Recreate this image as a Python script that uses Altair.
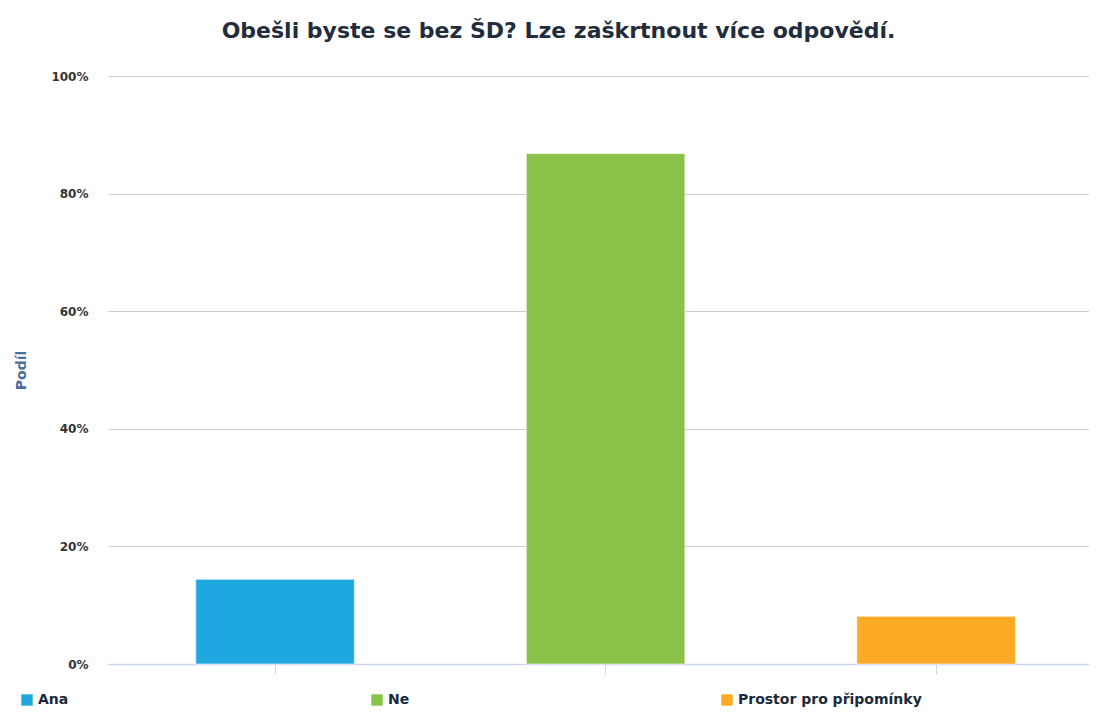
import altair as alt
import pandas as pd

categories = ["Ana", "Ne", "Prostor pro připomínky"]
shares = [0.144, 0.868, 0.081]
colors = ["#1FA8E0", "#8BC34A", "#FBAA26"]

df = pd.DataFrame({"kategorie": categories, "podil": shares})

FONT = "DejaVu Sans"

chart = alt.Chart(df).mark_bar(stroke="white", strokeWidth=1, strokeOpacity=0.6).encode(
    x=alt.X("kategorie:N", sort=categories,
            scale=alt.Scale(paddingInner=0.52, paddingOuter=0.244, align=0.544),
            axis=alt.Axis(labels=False, title=None, ticks=True, tickSize=10,
                          tickColor="#ccd6eb", domainColor="#ccd6eb", domainWidth=1.5, grid=False)),
    y=alt.Y("podil:Q", scale=alt.Scale(domain=[0, 1], nice=False),
            axis=alt.Axis(values=[0, 0.2, 0.4, 0.6, 0.8, 1.0], format=".0%", title="Podíl",
                          titleColor="#4a6e9a", titleFontSize=14, titleFont=FONT, titleFontWeight="bold",
                          titlePadding=22,
                          labelFont=FONT, labelFontWeight="bold", labelFontSize=12, labelColor="#333333",
                          labelPadding=20, ticks=False, domain=False,
                          grid=True, gridColor="#cccccc")),
    color=alt.Color("kategorie:N", sort=categories,
                    scale=alt.Scale(domain=categories, range=colors),
                    legend=alt.Legend(orient="none", legendX=-88, legendY=617, direction="horizontal",
                                      columns=3, gridAlign="all", columnPadding=148,
                                      title=None, symbolType="square", symbolSize=130,
                                      symbolStrokeWidth=0, labelFont=FONT, labelFontWeight="bold",
                                      labelFontSize=14, labelColor="#1a2a3a", labelLimit=300)),
).properties(
    width=981, height=588,
    title=alt.TitleParams("Obešli byste se bez ŠD? Lze zaškrtnout více odpovědí.",
                          font=FONT, fontSize=22, fontWeight="bold", color="#1f2d3d",
                          anchor="middle", offset=27, dx=-40),
    padding={"left": 100, "top": 68, "right": 0, "bottom": 47},
    autosize=alt.AutoSizeParams(type="none"),
).configure_view(stroke=None)

chart.save("out.html", embed_options={"renderer": "svg", "actions": False})
